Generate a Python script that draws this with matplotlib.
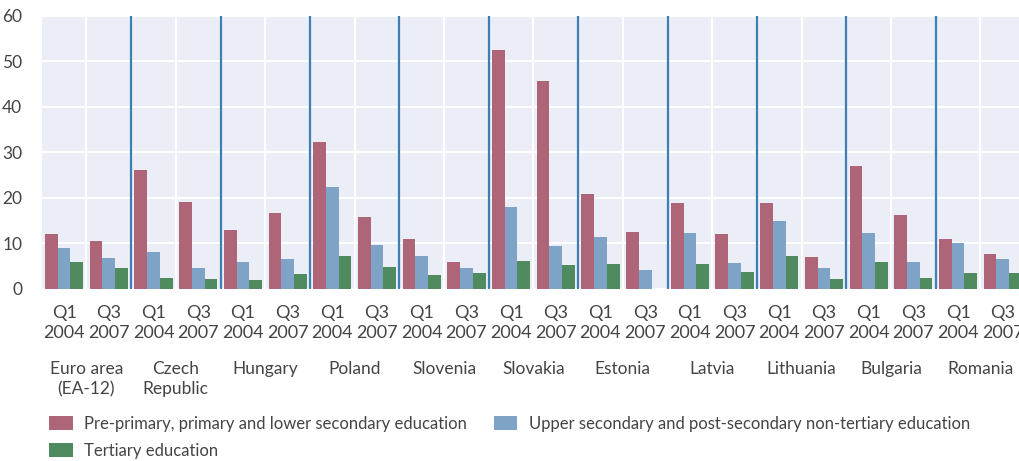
import matplotlib.pyplot as plt
from matplotlib.transforms import blended_transform_factory
import numpy as np

plt.rcParams['font.family'] = ['Lato', 'DejaVu Sans']

countries = ["Euro area\n(EA-12)", "Czech\nRepublic", "Hungary", "Poland", "Slovenia",
             "Slovakia", "Estonia", "Latvia", "Lithuania", "Bulgaria", "Romania"]
periods = ["Q1\n2004", "Q3\n2007"]

# one value per (country, period), in order Q1 2004, Q3 2007
lower_secondary = [12.0, 10.5, 26.1, 19.0, 12.9, 16.6, 32.2, 15.8, 10.9, 5.9, 52.5,
                   45.6, 20.8, 12.5, 18.8, 12.0, 18.8, 7.0, 27.0, 16.2, 10.9, 7.6]
upper_secondary = [8.9, 6.7, 8.1, 4.5, 5.9, 6.5, 22.3, 9.6, 7.2, 4.5, 17.9,
                   9.4, 11.4, 4.1, 12.2, 5.6, 14.9, 4.5, 12.2, 5.9, 10.0, 6.5]
tertiary = [5.9, 4.5, 2.3, 2.1, 1.9, 3.2, 7.2, 4.8, 3.0, 3.4, 6.1,
            5.2, 5.4, 0.0, 5.4, 3.7, 7.2, 2.1, 5.9, 2.3, 3.4, 3.4]

series = [
    ("Pre-primary, primary and lower secondary education", lower_secondary, "#ad6577"),
    ("Upper secondary and post-secondary non-tertiary education", upper_secondary, "#7fa3c7"),
    ("Tertiary education", tertiary, "#508a5f"),
]

fig = plt.figure(figsize=(10.19, 4.61), dpi=100)
# the plot runs slightly past the right edge, as in the original
ax = fig.add_axes([0.041, 0.374, 0.965, 0.592])
ax.set_facecolor("#ebeef6")

x = np.arange(len(lower_secondary))
w = 0.285
for i, (name, vals, col) in enumerate(series):
    ax.bar(x + (i - 1) * w, vals, width=w, color=col, label=name, zorder=3)

ax.set_ylim(0, 60)
ax.set_xlim(-0.5, len(x) - 0.5)
ax.set_yticks(range(0, 61, 10))
ax.yaxis.grid(True, color="white", linewidth=1.5, zorder=1)
ax.set_axisbelow(True)

# separators: white inside a country, blue between countries
for k in range(1, len(x)):
    if k % 2 == 1:
        ax.axvline(k - 0.5, color="white", linewidth=1.5, zorder=1)
    else:
        ax.axvline(k - 0.5, color="#3d7fb4", linewidth=1.6, zorder=4)

ax.set_xticks(x)
ax.set_xticklabels(periods * len(countries), fontsize=13, color="#444444", linespacing=1.25)
ax.tick_params(axis="x", length=0, pad=12, colors="#444444")
ax.tick_params(axis="y", length=0, pad=14, labelsize=12.5, colors="#444444")
for s in ax.spines.values():
    s.set_visible(False)

trans = blended_transform_factory(ax.transData, ax.transAxes)
for j, c in enumerate(countries):
    ax.text(2 * j + 0.5, -0.265, c, transform=trans, ha="center", va="top",
            fontsize=12.5, color="#444444", linespacing=1.35)

handles, labels = ax.get_legend_handles_labels()
order = [0, 2, 1]
fig.legend([handles[i] for i in order], [labels[i] for i in order],
           loc="upper left", bbox_to_anchor=(0.042, 0.112), ncol=2, frameon=False,
           fontsize=12, labelcolor="#444444", handlelength=1.4, handleheight=0.9,
           handletextpad=0.7, columnspacing=1.6, borderaxespad=0, labelspacing=0.65)

fig.savefig("out.png", dpi=100)
